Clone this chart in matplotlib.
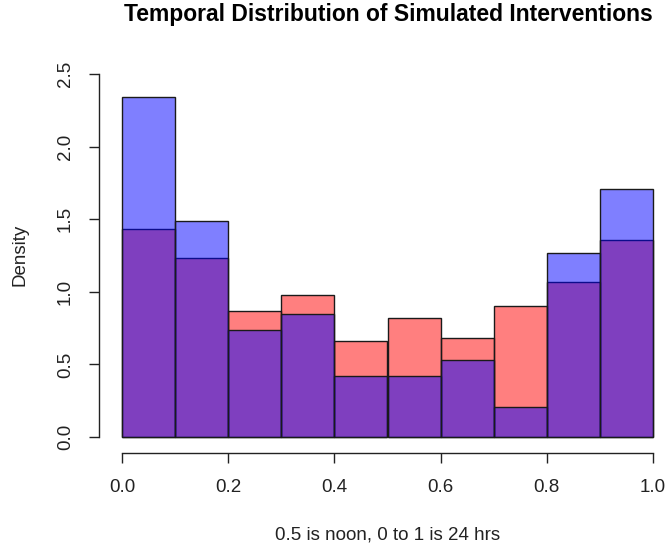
import numpy as np
import matplotlib
matplotlib.use("Agg")
import matplotlib.pyplot as plt

plt.rcParams['font.family'] = ['Liberation Sans', 'DejaVu Sans']

# bin edges (fraction of the day) and densities
bin_edges = [0.0, 0.1, 0.2, 0.3, 0.4, 0.5, 0.6, 0.7, 0.8, 0.9, 1.0]
red_density = [1.43, 1.23, 0.87, 0.98, 0.66, 0.82, 0.68, 0.90, 1.07, 1.36]
blue_density = [2.34, 1.49, 0.74, 0.85, 0.42, 0.42, 0.53, 0.21, 1.27, 1.71]

x_ticks = [0.0, 0.2, 0.4, 0.6, 0.8, 1.0]
y_ticks = [0.0, 0.5, 1.0, 1.5, 2.0, 2.5]

W, H = 670, 550
fig = plt.figure(figsize=(W / 100, H / 100), dpi=100)

# axes placed in pixels so the axis lines sit where R puts them
left_px, right_px, bottom_px, top_px = 99, 670, 453, 40
ax = fig.add_axes([left_px / W, 1 - bottom_px / H,
                   (right_px - left_px) / W, (bottom_px - top_px) / H])

edges = np.array(bin_edges)
widths = np.diff(edges)
ax.bar(edges[:-1], red_density, width=widths, align='edge',
       color=(1, 0, 0, 0.5), edgecolor='#1a1a1a', linewidth=1)
ax.bar(edges[:-1], blue_density, width=widths, align='edge',
       color=(0, 0, 1, 0.5), edgecolor='#1a1a1a', linewidth=1)

# px -> data: x 0 at 122, 1 at 653; y 0 at 437, 2.5 at 74
xs = 531.0
ys = (437 - 74) / 2.5
ax.set_xlim((left_px - 122) / xs, (right_px - 122) / xs)
ax.set_ylim((437 - bottom_px) / ys, (437 - top_px) / ys)

ax.spines['top'].set_visible(False)
ax.spines['right'].set_visible(False)
ax.spines['bottom'].set_bounds(0, 1)
ax.spines['left'].set_bounds(0, 2.5)
for s in ('bottom', 'left'):
    ax.spines[s].set_color('#222222')
    ax.spines[s].set_linewidth(1)

ax.set_xticks(x_ticks)
ax.set_xticklabels([f'{v:.1f}' for v in x_ticks])
ax.set_yticks(y_ticks)
ax.set_yticklabels([f'{v:.1f}' for v in y_ticks], rotation=90, va='center')
ax.tick_params(axis='both', direction='out', length=7, width=1,
               color='#222222', labelsize=13.5, labelcolor='#222222')
ax.tick_params(axis='x', pad=12)
ax.tick_params(axis='y', pad=11)

fig.text(388 / W, 1 - 535 / H, '0.5 is noon, 0 to 1 is 24 hrs',
         ha='center', va='center', fontsize=13.5, color='#222222')
fig.text(20 / W, 1 - 255 / H, 'Density', ha='center', va='center',
         rotation=90, fontsize=13.5, color='#222222')
fig.text(388 / W, 1 - 15 / H, 'Temporal Distribution of Simulated Interventions',
         ha='center', va='center', fontsize=16.5, fontweight='bold')

fig.savefig('out.png', dpi=100)
